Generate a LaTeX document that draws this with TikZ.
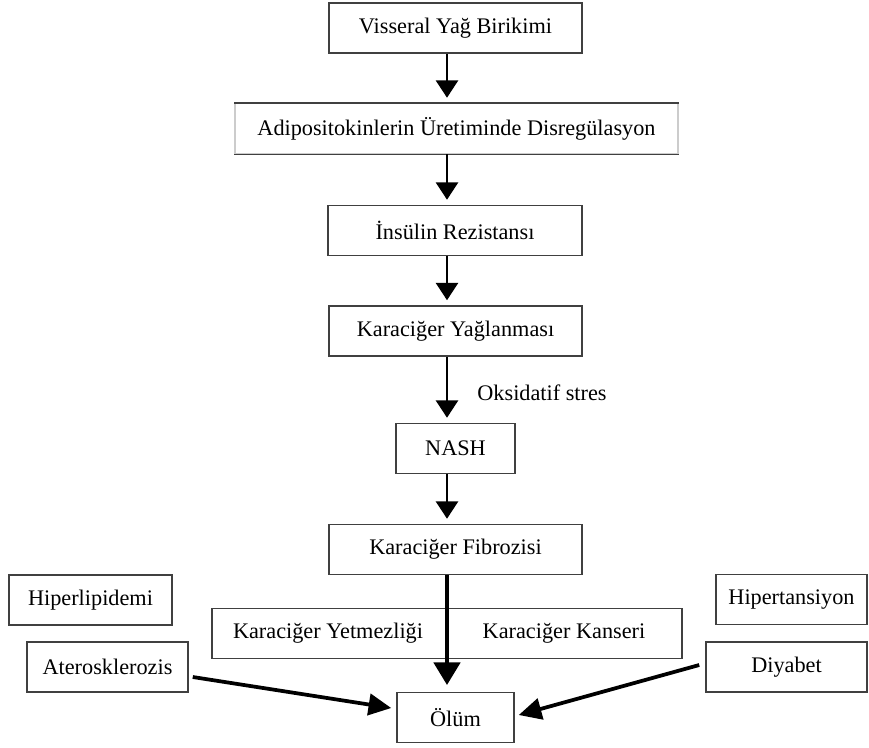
\documentclass[tikz,border=0pt]{standalone}
\usepackage{fontspec}
\setmainfont{Liberation Serif}
\usetikzlibrary{arrows.meta,calc}
\def\drawok{\draw[line width=2.1pt,-{Triangle[length=0.52cm,width=0.66cm]},shorten >=0.15cm]}
\def\drawkalin{\draw[line width=4pt,-{Triangle[length=0.68cm,width=0.78cm]},shorten >=0.2cm]}
\def\drawcapraz{\draw[line width=3.2pt,-{Triangle[length=0.68cm,width=0.64cm]}]}

\begin{document}
\begin{tikzpicture}[x=0.03cm,y=-0.03cm,
  kutu/.style={draw=black!75,line width=1.3pt,inner sep=0pt,minimum height=1.5cm,
    text=black,font=\fontsize{19}{23}\selectfont},
  yazi/.style={inner sep=0pt,text=black,font=\fontsize{19}{23}\selectfont}]
\useasboundingbox (0,0) rectangle (869,747);
\coordinate (spine) at (447,0);
% ana akis
\node[kutu,minimum width=7.6cm] (vis) at (455.5,28) {Visseral Yağ Birikimi};
\node[kutu,draw=black!20,minimum width=13.29cm] (adi) at (456.5,128.5) {Adipositokinlerin Üretiminde Disregülasyon};
\draw[draw=black!75,line width=1.3pt] (adi.north west) -- (adi.north east);
\draw[draw=black!75,line width=1.3pt] (adi.south west) -- (adi.south east);
\node[kutu,minimum width=7.62cm] (ins) at (455,230.5) {İnsülin Rezistansı};
\node[kutu,minimum width=7.6cm] (yag) at (455.5,331) {Karaciğer Yağlanması};
\node[kutu,minimum width=3.57cm] (nash) at (455.5,448.5) {NASH};
\node[kutu,minimum width=7.6cm] (fib) at (455.5,549.5) {Karaciğer Fibrozisi};
\node[kutu,minimum width=14.1cm] (kyk) at (447,633.5) {};
\node[yazi] (yetm) at (328,633.5) {Karaciğer Yetmezliği};
\node[yazi] (kans) at (564,633.5) {Karaciğer Kanseri};
\node[kutu,minimum width=3.51cm] (olum) at (455.5,717.5) {Ölüm};
\node[yazi] (oks) at (542,393) {Oksidatif stres};
% yan kutular
\node[kutu,minimum width=4.89cm] (hipl) at (90.5,600) {Hiperlipidemi};
\node[kutu,minimum width=4.83cm] (ater) at (107.5,667) {Aterosklerozis};
\node[kutu,minimum width=4.53cm] (hipt) at (791.5,599.5) {Hipertansiyon};
\node[kutu,minimum width=4.83cm] (diy) at (786.5,667) {Diyabet};
% oklar
\drawok (vis.south -| spine) -- (adi.north -| spine);
\drawok (adi.south -| spine) -- (ins.north -| spine);
\drawok (ins.south -| spine) -- (yag.north -| spine);
\drawok (yag.south -| spine) -- (nash.north -| spine);
\drawok (nash.south -| spine) -- (fib.north -| spine);
\drawkalin (fib.south -| spine) -- (olum.north -| spine);
\drawcapraz ($(ater.east)+(4,10)$) -- ($(olum.west)+(-5,-9.5)$);
\drawcapraz ($(diy.west)+(-6,-2)$) -- ($(olum.east)+(4,-2.5)$);
\end{tikzpicture}
\end{document}
